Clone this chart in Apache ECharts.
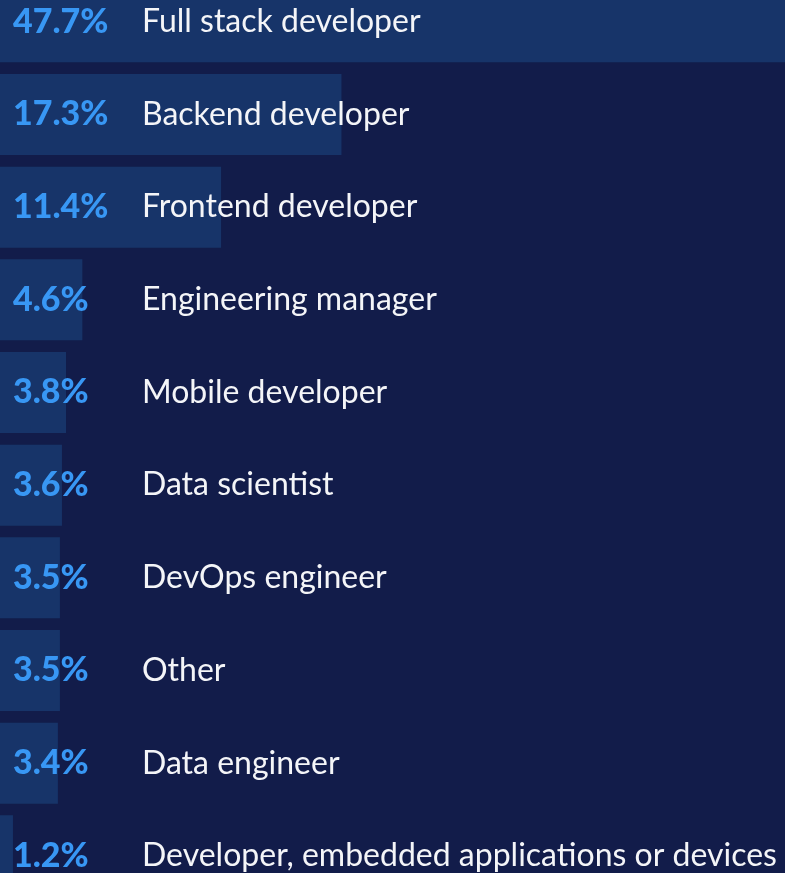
<!DOCTYPE html>
<html>
<head>
<meta charset="utf-8">
<script src="https://cdn.jsdelivr.net/npm/echarts@6/dist/echarts.min.js"></script>
<style>
  html, body { margin: 0; padding: 0; background: #121c4a; }
  #chart { width: 785px; height: 873px; }
</style>
</head>
<body>
<div id="chart"></div>
<script>
// roles, top to bottom
const roles = [
  'Full stack developer',
  'Backend developer',
  'Frontend developer',
  'Engineering manager',
  'Mobile developer',
  'Data scientist',
  'DevOps engineer',
  'Other',
  'Data engineer',
  'Developer, embedded applications or devices'
]
const shares = [47.7, 17.3, 11.4, 4.6, 3.8, 3.6, 3.5, 3.5, 3.4, 1.2]

const chart = echarts.init(document.getElementById('chart'))

const option = {
  backgroundColor: '#121c4a',
  animation: false,
  grid: {
    left: -11.5,
    right: 0,
    top: -24.5,
    height: 926.7,
    outerBoundsMode: 'none',
    containLabel: false
  },
  xAxis: {
    type: 'value',
    min: 0,
    max: 39.04,
    show: false
  },
  yAxis: {
    type: 'category',
    data: roles,
    inverse: true,
    axisLine: { show: false },
    axisTick: { show: false },
    splitLine: { show: false },
    axisLabel: {
      inside: true,
      margin: 24.5,
      formatter: (value, idx) => '{p|' + shares[idx].toFixed(1) + '%}{n|' + value + '}',
      rich: {
        p: {
          width: 129,
          color: '#3897f4',
          fontFamily: 'Lato',
          fontWeight: 900,
          fontSize: 34
        },
        n: {
          color: '#f4f5f8',
          fontFamily: 'Lato',
          fontSize: 32
        }
      }
    },
    z: 10
  },
  series: [
    {
      type: 'bar',
      data: shares,
      barWidth: 81,
      clip: true,
      itemStyle: { color: '#173469' },
      silent: true
    }
  ]
}

chart.setOption(option)
</script>
</body>
</html>
